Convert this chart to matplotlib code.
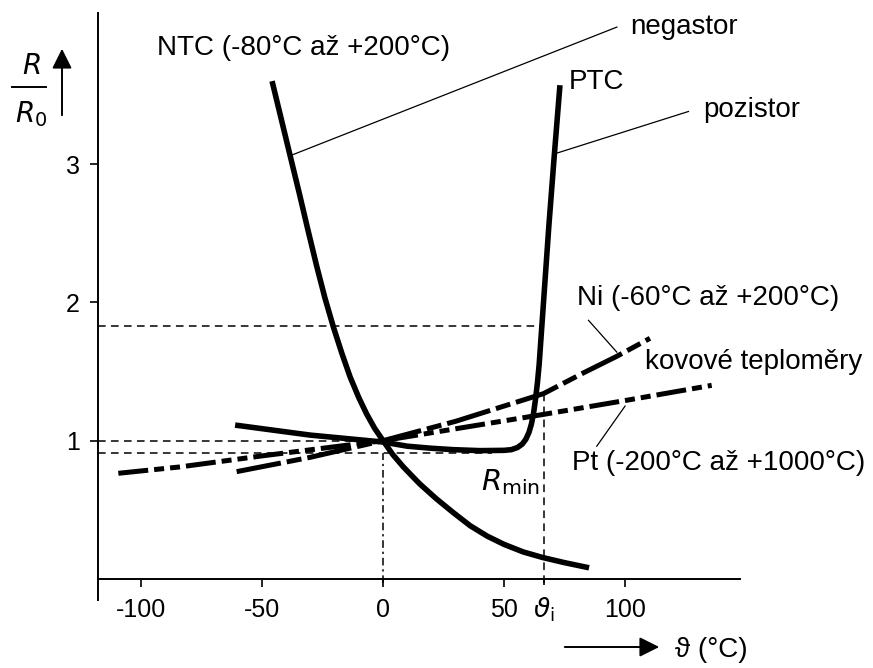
import matplotlib.pyplot as plt

plt.rcParams['font.family'] = ['Liberation Sans', 'DejaVu Sans']

# odpor NTC / PTC / kovovych teplomeru (R/R0) v zavislosti na teplote
ntc_t = [-45.6, -42, -38.4, -34.5, -31, -27.4, -24, -20.5, -17, -13.6, -10, -6.7, -3.5, 0,
         4, 8.4, 15, 22, 29, 36, 43, 50, 58, 66, 75, 84]
ntc_r = [3.58, 3.32, 3.06, 2.78, 2.52, 2.26, 2.03, 1.82, 1.63, 1.46, 1.31, 1.19, 1.09, 1.0,
         0.90, 0.81, 0.69, 0.58, 0.48, 0.385, 0.31, 0.25, 0.195, 0.155, 0.118, 0.085]

ptc_t = [-60, -30, 0, 10, 20, 29, 40, 50, 53, 55.5, 57.5, 59, 60.3, 61.3, 62.2, 63.0, 63.8,
         64.5, 66.5, 68.5, 70.7, 73.0]
ptc_r = [1.11, 1.04, 0.99, 0.96, 0.945, 0.935, 0.928, 0.93, 0.935, 0.95, 0.975, 1.01, 1.06,
         1.12, 1.20, 1.30, 1.42, 1.55, 2.05, 2.55, 3.05, 3.55]

ni_t = [-60.5, -30, 0, 30, 66.3, 82.8, 96.6, 110.3]
ni_r = [0.776, 0.88, 1.0, 1.14, 1.34, 1.49, 1.61, 1.74]

pt_t = [-109.4, -84, -50, 0, 66.3, 100, 135.8]
pt_r = [0.764, 0.81, 0.89, 1.0, 1.19, 1.29, 1.40]

x_ticks = [-100, -50, 0, 50, 100]
x_labels = ['-100', '-50', '0', '50', '100']
y_ticks = [1, 2, 3]
theta_i = 66.5
r_min = 0.91
r_i = 1.83

# popisky: (text, t, R) a odkazove cary
labels = [
    ('NTC (-80°C až +200°C)', -93.4, 3.84),
    ('negastor', 102.0, 3.99),
    ('PTC', 76.9, 3.59),
    ('pozistor', 132.2, 3.39),
    ('Ni (-60°C až +200°C)', 80.2, 2.03),
    ('kovové teploměry', 108.3, 1.57),
    ('Pt (-200°C až +1000°C)', 78.1, 0.84),
]
leaders = [
    ((-38.4, 3.06), (96.6, 3.99)),
    ((72.0, 3.08), (126.2, 3.38)),
    ((84.9, 1.87), (96.6, 1.64)),
    ((100.0, 1.25), (88.3, 0.96)),
]

fig = plt.figure(figsize=(8.73, 6.68), dpi=100)
ax = fig.add_axes([98 / 873, 68 / 668, 642 / 873, 587 / 668])
ax.set_xlim(-117.8, 147.5)
ax.set_ylim(-0.152, 4.092)

for s in ['top', 'right']:
    ax.spines[s].set_visible(False)
ax.spines['bottom'].set_position(('data', 0))
ax.spines['bottom'].set_linewidth(1.4)
ax.spines['left'].set_linewidth(1.4)

ax.set_xticks(x_ticks)
ax.set_xticklabels(x_labels)
ax.set_xticks([theta_i], minor=True)
ax.set_xticklabels([r'$\vartheta_{\mathrm{i}}$'], minor=True)
ax.set_yticks(y_ticks)
ax.tick_params(which='major', direction='out', length=6, width=1.2, labelsize=18)
ax.tick_params(axis='x', which='both', pad=8)
ax.tick_params(axis='x', which='minor', length=4, width=1.2, labelsize=19)
ax.tick_params(axis='y', pad=7)

# pomocne cary
dash = dict(color='k', lw=1.1, ls=(0, (5, 3.5)))
ax.plot([-117.8, 64.9], [r_i, r_i], **dash)
ax.plot([-117.8, 0], [1, 1], **dash)
ax.plot([-117.8, 45], [r_min, r_min], **dash)
ax.plot([theta_i, theta_i], [-0.03, 1.35], **dash)
ax.plot([0, 0], [-0.03, r_min], color='k', lw=1.1, ls=(0, (5, 2.5, 1.5, 2.5)))

# krivky
ax.plot(pt_t, pt_r, color='k', lw=3.6, ls=(0, (6, 1.2, 2, 1.2, 2, 1.2)))
ax.plot(ni_t, ni_r, color='k', lw=3.6, ls=(0, (9, 1.2, 3, 1.2)))
ax.plot(ptc_t, ptc_r, color='k', lw=4, solid_joinstyle='round')
ax.plot(ntc_t, ntc_r, color='k', lw=4, solid_joinstyle='round')

for (x0, y0), (x1, y1) in leaders:
    ax.plot([x0, x1], [y0, y1], color='k', lw=0.9, clip_on=False)

for txt, t, r in labels:
    ax.text(t, r, txt, fontsize=20, ha='left', va='center', clip_on=False)

ax.text(40.5, 0.70, r'$R_{\mathrm{min}}$', fontsize=21, ha='left', va='center')

# osa y: R/R0 se sipkou
fig.text(31 / 873, 1 - 67 / 668, r'$R$', fontsize=20, ha='center', va='center')
fig.text(31 / 873, 1 - 114 / 668, r'$R_{\mathrm{0}}$', fontsize=20, ha='center', va='center')
fig.add_artist(plt.Line2D([12 / 873, 46 / 873], [1 - 87 / 668, 1 - 87 / 668], color='k', lw=1.4))
ax.annotate('', xy=(62 / 873, 1 - 46 / 668), xytext=(62 / 873, 1 - 118 / 668),
            xycoords='figure fraction', textcoords='figure fraction',
            arrowprops=dict(arrowstyle='-|>', color='k', lw=1.4, mutation_scale=30))

# osa x: sipka a jednotka
ax.annotate('', xy=(662 / 873, 1 - 647 / 668), xytext=(562 / 873, 1 - 647 / 668),
            xycoords='figure fraction', textcoords='figure fraction',
            arrowprops=dict(arrowstyle='-|>', color='k', lw=1.4, mutation_scale=30))
fig.text(675 / 873, 1 - 650 / 668, 'ϑ (°C)', fontsize=20, ha='left', va='center')

fig.savefig('out.png', dpi=100)
